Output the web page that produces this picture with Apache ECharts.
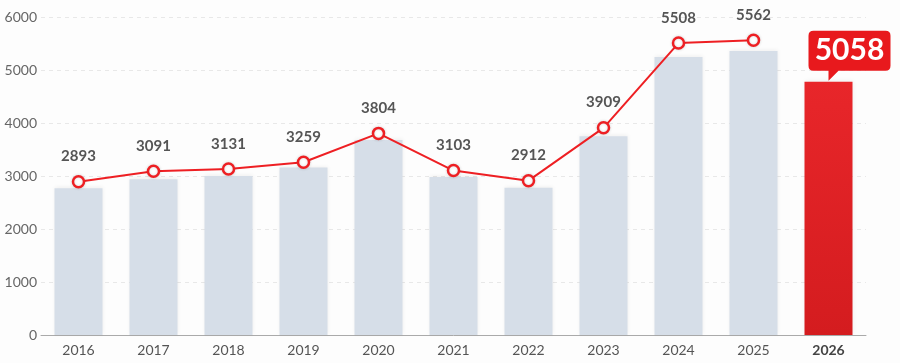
<!DOCTYPE html>
<html>
<head>
<meta charset="utf-8">
<script src="https://cdn.jsdelivr.net/npm/echarts@6/dist/echarts.min.js"></script>
<style>
  html, body { margin: 0; padding: 0; background: #fff; }
  #chart { width: 900px; height: 363px; }
</style>
</head>
<body>
<div id="chart"></div>
<script>
/* ---------------------------  数据  --------------------------- */
const years = ['2016', '2017', '2018', '2019', '2020', '2021', '2022', '2023', '2024', '2025', '2026'];
const barValues = [2770, 2940, 3000, 3160, 3680, 2980, 2780, 3750, 5245, 5360, 4780];
const lineValues = [2893, 3091, 3131, 3259, 3804, 3103, 2912, 3909, 5508, 5562, null];
const highlightYear = '2026';
const highlightLabel = '5058';
const yTicks = { min: 0, max: 6000, interval: 1000 };

/* ---------------------------  样式  --------------------------- */
const font = 'Lato, "Noto Sans", sans-serif';
const red = '#ee1f23';
const lastIdx = years.indexOf(highlightYear);

// 气泡框：圆角矩形 + 左下小尖角
const calloutPath = 'path://M5,0 L77,0 Q82,0 82,5 L82,35 Q82,40 77,40 L30,40 L20,50 L20,40 L5,40 Q0,40 0,35 L0,5 Q0,0 5,0 Z';

const bars = barValues.map((v, i) => {
  if (i !== lastIdx) return v;
  return {
    value: v,
    itemStyle: {
      color: new echarts.graphic.LinearGradient(0, 0, 0, 1, [
        { offset: 0, color: '#e8262a' },
        { offset: 1, color: '#d41c1f' },
      ]),
    },
  };
});

const chart = echarts.init(document.getElementById('chart'));
chart.setOption({
  backgroundColor: '#fdfdfd',
  animation: false,
  grid: { left: 41, right: 34, top: 17, bottom: 28 },
  xAxis: {
    type: 'category',
    data: years,
    axisLine: { lineStyle: { color: '#aaaaaa' } },
    axisTick: { show: false },
    axisLabel: {
      margin: 8,
      fontFamily: font,
      fontSize: 14,
      color: '#555',
      formatter: (v) => (v === highlightYear ? '{b|' + v + '}' : v),
      rich: { b: { fontFamily: font, fontSize: 14, fontWeight: 'bold', color: '#444' } },
    },
  },
  yAxis: {
    type: 'value',
    min: yTicks.min,
    max: yTicks.max,
    interval: yTicks.interval,
    axisLine: { show: false },
    axisTick: { show: false },
    axisLabel: {
      margin: 4,
      fontFamily: font,
      fontSize: 14,
      color: '#666',
      formatter: (v) => String(v),
    },
    splitLine: { lineStyle: { color: '#e8e8e8', type: [4, 4] } },
  },
  series: [
    {
      type: 'bar',
      data: bars,
      barWidth: 48,
      itemStyle: {
        color: '#d6dee8',
        shadowColor: 'rgba(0,0,0,0.06)',
        shadowBlur: 4,
        shadowOffsetY: -1,
      },
      markPoint: {
        symbol: calloutPath,
        symbolSize: [82, 50],
        symbolKeepAspect: false,
        symbolOffset: [21, -26],
        itemStyle: { color: '#e8191d' },
        label: {
          show: true,
          formatter: highlightLabel,
          color: '#fff',
          fontFamily: font,
          fontSize: 30,
          fontWeight: 'bold',
          offset: [0, -5],
        },
        data: [{ coord: [highlightYear, barValues[lastIdx]] }],
      },
    },
    {
      type: 'line',
      data: lineValues,
      z: 5,
      symbol: 'circle',
      symbolSize: 11,
      lineStyle: { color: red, width: 2 },
      itemStyle: {
        color: '#fff',
        borderColor: red,
        borderWidth: 2.5,
        shadowColor: 'rgba(0,0,0,0.15)',
        shadowBlur: 3,
      },
      label: {
        show: true,
        position: 'top',
        distance: 11,
        fontFamily: font,
        fontSize: 15,
        fontWeight: 'bold',
        color: '#555',
      },
    },
  ],
});
</script>
</body>
</html>
